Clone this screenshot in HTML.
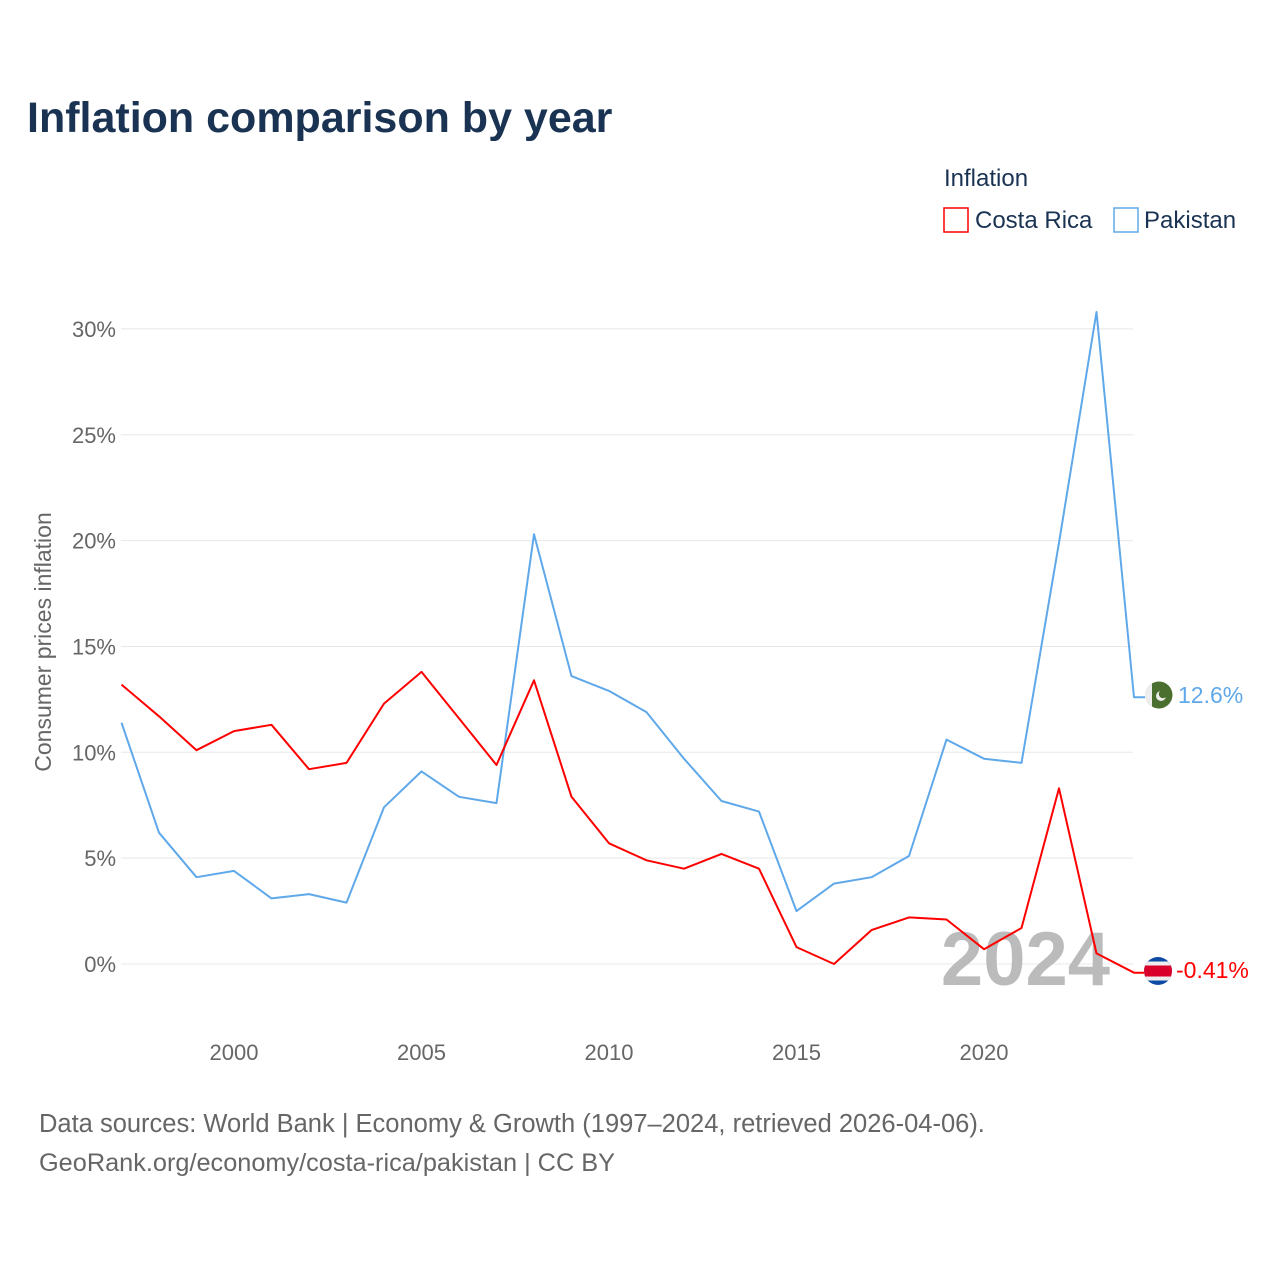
<!DOCTYPE html>
<html><head><meta charset="utf-8"><style>
body{margin:0;background:#fff;font-family:"Liberation Sans",sans-serif}
svg text{font-family:"Liberation Sans",sans-serif}
</style></head><body>
<svg width="1280" height="1280" viewBox="0 0 1280 1280">
<text x="27" y="132" font-size="43" font-weight="bold" fill="#1a3353">Inflation comparison by year</text>
<text x="944" y="186" font-size="24" fill="#1a3353">Inflation</text>
<g><rect x="944" y="208" width="24" height="24" fill="none" stroke="#f00" stroke-width="1.5"/><text x="975" y="228" font-size="24" fill="#1a3353">Costa Rica</text></g>
<g><rect x="1114" y="208" width="24" height="24" fill="none" stroke="#5fa8ea" stroke-width="1.5"/><text x="1144" y="228" font-size="24" fill="#1a3353">Pakistan</text></g>
<g id="grid"></g>
<g id="yt"></g>
<g id="xt"></g>
<text transform="translate(51,642) rotate(-90)" text-anchor="middle" font-size="23" fill="#666">Consumer prices inflation</text>
<text x="1110" y="985" text-anchor="end" font-size="76" font-weight="bold" fill="#bbb">2024</text>
<g id="lines"></g>
<clipPath id="pc"><circle cx="1159" cy="695" r="13.5"/></clipPath>
<g><g clip-path="url(#pc)"><rect x="1145" y="681" width="28" height="28" fill="#4a6f2e"/><rect x="1145" y="681" width="7" height="28" fill="#eee"/><circle cx="1161" cy="696" r="5" fill="#eee"/><circle cx="1163" cy="694" r="4.2" fill="#4a6f2e"/></g></g>
<clipPath id="cc"><circle cx="1158" cy="971" r="14"/></clipPath>
<g><g clip-path="url(#cc)"><rect x="1144" y="957" width="28" height="28" fill="#0d4aa3"/><rect x="1144" y="961.5" width="28" height="19" fill="#eee"/><rect x="1144" y="965.5" width="28" height="11" fill="#d9002b"/></g></g>
<text x="1178" y="703" font-size="23" fill="#5fa8ea">12.6%</text>
<text x="1176" y="978" font-size="23" fill="#f00">-0.41%</text>
<text x="39" y="1132" font-size="25.5" fill="#666">Data sources: World Bank | Economy &amp; Growth (1997–2024, retrieved 2026-04-06).</text>
<text x="39" y="1171" font-size="25.3" fill="#666">GeoRank.org/economy/costa-rica/pakistan | CC BY</text>
</svg>
<script>
const years=[1997,1998,1999,2000,2001,2002,2003,2004,2005,2006,2007,2008,2009,2010,2011,2012,2013,2014,2015,2016,2017,2018,2019,2020,2021,2022,2023,2024];
const costaRica=[13.2,11.7,10.1,11.0,11.3,9.2,9.5,12.3,13.8,11.6,9.4,13.4,7.9,5.7,4.9,4.5,5.2,4.5,0.8,0.0,1.6,2.2,2.1,0.7,1.7,8.3,0.5,-0.41];
const pakistan=[11.4,6.2,4.1,4.4,3.1,3.3,2.9,7.4,9.1,7.9,7.6,20.3,13.6,12.9,11.9,9.7,7.7,7.2,2.5,3.8,4.1,5.1,10.6,9.7,9.5,19.9,30.8,12.6];
const yTicks=[0,5,10,15,20,25,30];
const xTicks=[2000,2005,2010,2015,2020];
const NS="http://www.w3.org/2000/svg";
const x=v=>234+(v-2000)*37.5, y=v=>964-v*21.17;
function mk(t,a,p){const e=document.createElementNS(NS,t);for(const k in a)e.setAttribute(k,a[k]);p.appendChild(e);return e;}
const grid=document.getElementById('grid'),yt=document.getElementById('yt'),xt=document.getElementById('xt'),lines=document.getElementById('lines');
yTicks.forEach(v=>{
 const l=mk('line',{x1:121,x2:1133,y1:y(v),y2:y(v),stroke:'#e8e8e8','stroke-width':1},grid);
 
 
 const t=mk('text',{x:116,y:y(v)+8,'text-anchor':'end','font-size':22,fill:'#666'},yt);
 t.textContent=v+'%';
 
 
});
xTicks.forEach(v=>{
 const t=mk('text',{x:x(v),y:1060,'text-anchor':'middle','font-size':22,fill:'#666'},xt);
 t.textContent=v;
 
 
});
function line(vals,color,name,endX){
 let d=vals.map((v,i)=>(i?'L':'M')+x(years[i]).toFixed(1)+' '+y(v).toFixed(1)).join(' ');
 d+=' L'+endX+' '+y(vals[vals.length-1]).toFixed(1);
 const p=mk('path',{d:d,fill:'none',stroke:color,'stroke-width':2,'stroke-linejoin':'round'},lines);
 
 
}
line(pakistan,'#5fa8ea','pakistan-line',1145);
line(costaRica,'#f00','costa-rica-line',1144);
</script>
</body></html>
